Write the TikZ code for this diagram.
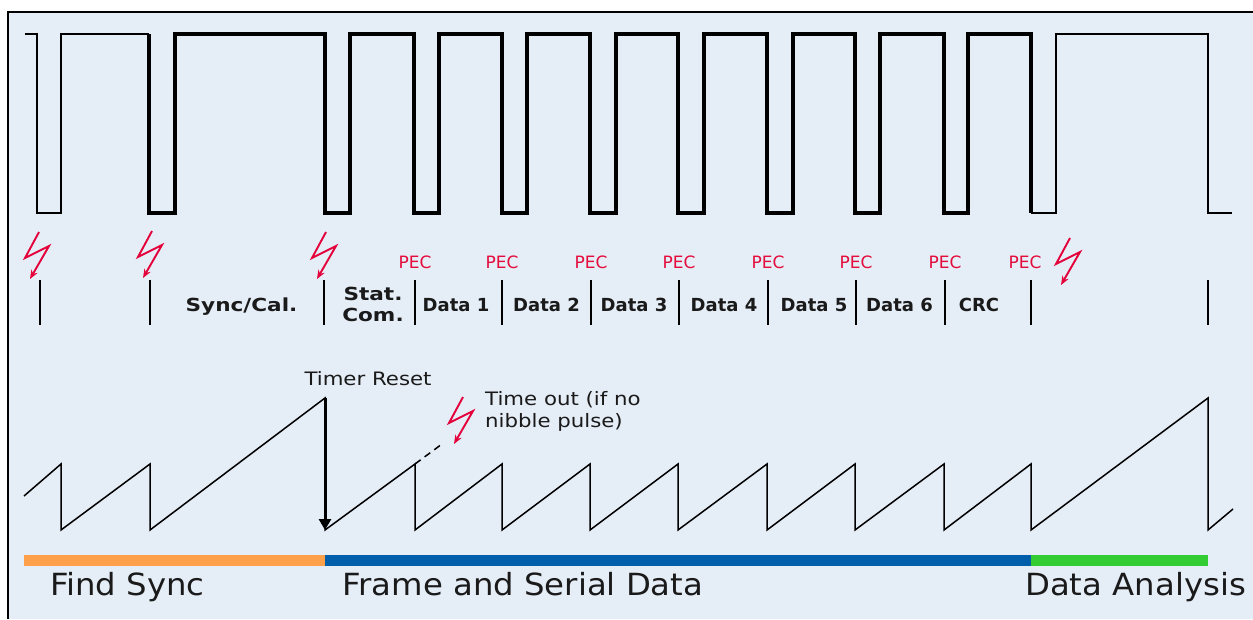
\documentclass[tikz,border=0pt]{standalone}
\usepackage{fontspec}
\setmainfont{DejaVu Sans}
\newfontfamily\widesans{DejaVu Sans}[FakeStretch=1.15]
\newfontfamily\bigsans{DejaVu Sans}[FakeStretch=1.06]
\newfontfamily\widebold{DejaVu Sans}[FakeStretch=1.2]
\usetikzlibrary{arrows.meta}

\definecolor{panel}{RGB}{229,237,246}
\definecolor{boltred}{RGB}{228,0,58}
\definecolor{pecred}{RGB}{228,12,60}
\definecolor{ink}{RGB}{26,26,26}
\definecolor{findorange}{RGB}{255,161,74}
\definecolor{frameblue}{RGB}{0,94,170}
\definecolor{analysisgreen}{RGB}{51,204,51}

\tikzset{
  thinwave/.style={line width=1.4pt,line join=miter},
  thickwave/.style={line width=4pt,line join=miter},
  sep/.style={line width=1.7pt},
  saw/.style={line width=1.5pt,line join=miter},
  pec/.style={text=pecred,font=\fontsize{17}{18}\selectfont,anchor=base,inner sep=0pt},
  field/.style={text=ink,font=\bfseries\fontsize{18}{20}\selectfont,anchor=base,inner sep=0pt},
  widefield/.style={text=ink,font=\widebold\bfseries\fontsize{18}{21}\selectfont,inner sep=0pt},
  phase/.style={text=ink,font=\bigsans\fontsize{30.5}{32}\selectfont,anchor=base west,inner sep=0pt},
  note/.style={text=ink,font=\widesans\fontsize{18.5}{22}\selectfont,inner sep=0pt},
  bar/.style={line width=11pt},
  bolt/.pic={\draw[boltred,line width=1.9pt,line join=miter,
      -{Stealth[length=9pt,width=7pt]}]
      (0,0) -- (-14,26) -- (10,14) -- (-9,47);}
}

\begin{document}
\begin{tikzpicture}[x=1pt,y=-1pt]
\useasboundingbox (0,0) rectangle (1253,619);
\fill[white] (0,0) rectangle (1253,619);
% panel with its top and left border
\fill[panel] (8,12) rectangle (1253,619);
\draw[line width=1.3pt] (8,619) -- (8,12) -- (1253,12);

% ---- pulse train ----
\draw[thinwave] (25,34) -- (37,34) -- (37,213) -- (61,213) -- (61,34) -- (149,34);
\draw[thickwave] (149,34) -- (149,213) -- (175,213) -- (175,34)
  -- (325,34) -- (325,213) -- (350,213) -- (350,34)
  -- (414,34) -- (414,213) -- (439,213) -- (439,34)
  -- (502,34) -- (502,213) -- (527,213) -- (527,34)
  -- (590,34) -- (590,213) -- (616,213) -- (616,34)
  -- (678,34) -- (678,213) -- (704,213) -- (704,34)
  -- (767,34) -- (767,213) -- (793,213) -- (793,34)
  -- (855,34) -- (855,213) -- (880,213) -- (880,34)
  -- (944,34) -- (944,213) -- (968,213) -- (968,34)
  -- (1031,34) -- (1031,213);
\draw[thinwave] (1031,213) -- (1056,213) -- (1056,34) -- (1208,34) -- (1208,213) -- (1232,213);

% ---- field separators ----
\foreach \x in {40,150,324,415,502,591,679,768,856,945,1031,1208}
  \draw[sep] (\x,280) -- (\x,325);

% ---- field names ----
\node[widefield,anchor=base] (syncl) at (241.5,311) {Sync/Cal.};
\node[widefield,align=center] (stat) at (373,304) {Stat.\\Com.};
\node[field] (d1) at (456,311) {Data 1};
\node[field] (d2) at (546.5,311) {Data 2};
\node[field] (d3) at (634,311) {Data 3};
\node[field] (d4) at (724,311) {Data 4};
\node[field] (d5) at (814,311) {Data 5};
\node[field] (d6) at (899.5,311) {Data 6};
\node[field] (crc) at (979,311) {CRC};

% ---- pulse edge checks ----
\foreach \x/\n in {415/1,502/2,591/3,679/4,768/5,856/6,945/7,1025/8}
  \node[pec] (pec\n) at (\x,268) {PEC};

% ---- error flashes ----
\pic at (39,232) {bolt};
\pic at (152,231) {bolt};
\pic at (326,232) {bolt};
\pic at (1070,238) {bolt};
\pic at (463,397) {bolt};

% ---- timer ramp ----
\draw[saw] (24,496) -- (61,464) -- (61,530) -- (150,464) -- (150,530)
  -- (325,398) -- (325,530) -- (415,464) -- (415,530)
  -- (502,464) -- (502,530) -- (590,464) -- (590,530)
  -- (678,464) -- (678,530) -- (767,464) -- (767,530)
  -- (855,464) -- (855,530) -- (944,464) -- (944,530)
  -- (1031,464) -- (1031,530) -- (1208,398) -- (1208,530) -- (1233,509);
\draw[saw,dash pattern=on 7pt off 5pt] (415,464) -- (442,444);

\coordinate (rtop) at (325,398);
\coordinate (rbot) at (325,530);
\draw[line width=3pt,-{Triangle[length=11pt,width=12pt]}] (rtop) -- (rbot);

\node[note,anchor=base] (reset) at (368,385) {Timer Reset};
\node[note,anchor=north west,align=left] (tout) at (485,391) {Time out (if no\\nibble pulse)};

% ---- phase bars ----
\draw[bar,findorange] (24,560.5) -- (325,560.5);
\draw[bar,frameblue] (325,560.5) -- (1031,560.5);
\draw[bar,analysisgreen] (1031,560.5) -- (1208,560.5);

\node[phase] (find) at (50,595) {Find Sync};
\node[phase] (frame) at (342,595) {Frame and Serial Data};
\node[phase] (anal) at (1025,595) {Data Analysis};
\end{tikzpicture}
\end{document}
